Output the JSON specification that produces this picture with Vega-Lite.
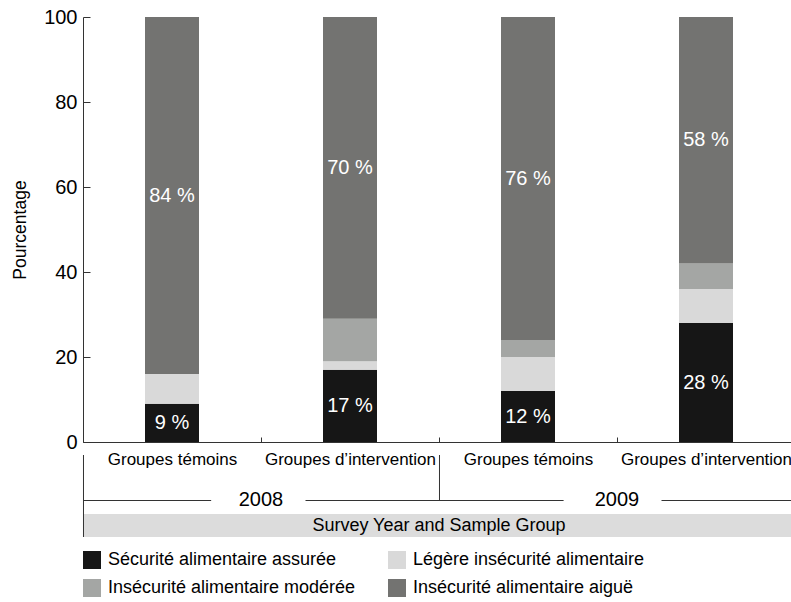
{
  "$schema": "https://vega.github.io/schema/vega-lite/v6.json",
  "width": 708,
  "height": 425,
  "autosize": {"type": "none"},
  "padding": {"left": 83, "top": 17, "right": 0, "bottom": 160},
  "background": "white",
  "config": {
    "view": {"stroke": null},
    "font": "Liberation Sans",
    "axis": {"domainColor": "#333", "tickColor": "#333", "labelColor": "#000", "titleColor": "#000", "grid": false},
    "legend": {"labelColor": "#000"}
  },
  "resolve": {"scale": {"x": "independent"}, "axis": {"y": "independent", "x": "independent"}},
  "datasets": {
    "food": [
      {"bar": "2008|Groupes témoins", "cat": "Sécurité alimentaire assurée", "value": 9, "label": "9 %"},
      {"bar": "2008|Groupes témoins", "cat": "Légère insécurité alimentaire", "value": 7, "label": ""},
      {"bar": "2008|Groupes témoins", "cat": "Insécurité alimentaire modérée", "value": 0, "label": ""},
      {"bar": "2008|Groupes témoins", "cat": "Insécurité alimentaire aiguë", "value": 84, "label": "84 %"},
      {"bar": "2008|Groupes d’intervention", "cat": "Sécurité alimentaire assurée", "value": 17, "label": "17 %"},
      {"bar": "2008|Groupes d’intervention", "cat": "Légère insécurité alimentaire", "value": 2, "label": ""},
      {"bar": "2008|Groupes d’intervention", "cat": "Insécurité alimentaire modérée", "value": 10, "label": ""},
      {"bar": "2008|Groupes d’intervention", "cat": "Insécurité alimentaire aiguë", "value": 71, "label": "70 %"},
      {"bar": "2009|Groupes témoins", "cat": "Sécurité alimentaire assurée", "value": 12, "label": "12 %"},
      {"bar": "2009|Groupes témoins", "cat": "Légère insécurité alimentaire", "value": 8, "label": ""},
      {"bar": "2009|Groupes témoins", "cat": "Insécurité alimentaire modérée", "value": 4, "label": ""},
      {"bar": "2009|Groupes témoins", "cat": "Insécurité alimentaire aiguë", "value": 76, "label": "76 %"},
      {"bar": "2009|Groupes d’intervention", "cat": "Sécurité alimentaire assurée", "value": 28, "label": "28 %"},
      {"bar": "2009|Groupes d’intervention", "cat": "Légère insécurité alimentaire", "value": 8, "label": ""},
      {"bar": "2009|Groupes d’intervention", "cat": "Insécurité alimentaire modérée", "value": 6, "label": ""},
      {"bar": "2009|Groupes d’intervention", "cat": "Insécurité alimentaire aiguë", "value": 58, "label": "58 %"}
    ],
    "one": [{}]
  },
  "layer": [
    {
      "data": {"name": "food"},
      "transform": [
        {"stack": "value", "groupby": ["bar"], "sort": [{"field": "cat", "order": "descending"}], "as": ["y0", "y1"]}
      ],
      "mark": {"type": "bar", "width": 54},
      "encoding": {
        "x": {
          "field": "bar", "type": "nominal",
          "sort": ["2008|Groupes témoins", "2008|Groupes d’intervention", "2009|Groupes témoins", "2009|Groupes d’intervention"],
          "scale": {"range": [0, 712], "paddingInner": 0, "paddingOuter": 0},
          "axis": {"title": null, "labelAngle": 0, "labelFontSize": 17, "labelExpr": "split(datum.value, '|')[1]", "tickSize": -5, "tickBand": "extent", "labelPadding": 14, "labelLimit": 300, "labelOverlap": false}
        },
        "y": {
          "field": "y0", "type": "quantitative",
          "scale": {"domain": [0, 100], "nice": false},
          "axis": {"title": "Pourcentage", "values": [0, 20, 40, 60, 80, 100], "tickSize": -7, "labelPadding": 13, "labelFontSize": 20, "titleFontSize": 17.5, "titleFontWeight": "normal", "titlePadding": 14}
        },
        "y2": {"field": "y1"},
        "color": {
          "field": "cat", "type": "nominal",
          "scale": {
            "domain": ["Sécurité alimentaire assurée", "Légère insécurité alimentaire", "Insécurité alimentaire modérée", "Insécurité alimentaire aiguë"],
            "range": ["#161616", "#d9d9d9", "#a4a6a4", "#737371"]
          },
          "legend": {"title": null, "orient": "none", "legendX": 0, "legendY": 534, "direction": "horizontal", "columns": 2, "symbolType": "square", "symbolSize": 324, "symbolStrokeWidth": 0, "labelFontSize": 18, "labelLimit": 400, "columnPadding": 32, "rowPadding": 10, "labelOffset": 7}
        }
      }
    },
    {
      "data": {"name": "food"},
      "transform": [
        {"stack": "value", "groupby": ["bar"], "sort": [{"field": "cat", "order": "descending"}], "as": ["y0", "y1"]},
        {"filter": "datum.label != ''"},
        {"calculate": "(datum.y0 + datum.y1) / 2", "as": "mid"}
      ],
      "mark": {"type": "text", "color": "white", "fontSize": 20, "baseline": "middle", "align": "center"},
      "encoding": {
        "x": {
          "field": "bar", "type": "nominal",
          "sort": ["2008|Groupes témoins", "2008|Groupes d’intervention", "2009|Groupes témoins", "2009|Groupes d’intervention"],
          "scale": {"range": [0, 712], "paddingInner": 0, "paddingOuter": 0},
          "axis": null
        },
        "y": {"field": "mid", "type": "quantitative", "scale": {"domain": [0, 100], "nice": false}, "axis": null},
        "text": {"field": "label"}
      }
    },
    {
      "data": {"name": "one"},
      "mark": {"type": "rect", "fill": "#dcdcdc"},
      "encoding": {
        "x": {"datum": 0, "type": "quantitative", "scale": {"domain": [0, 4], "range": [0, 712]}, "axis": null},
        "x2": {"datum": 4},
        "y": {"datum": -16.94, "type": "quantitative", "scale": {"domain": [0, 100], "nice": false}, "axis": null},
        "y2": {"datum": -22.35}
      }
    },
    {
      "data": {"name": "one"},
      "mark": {"type": "text", "fontSize": 18, "baseline": "middle", "align": "center", "color": "#000"},
      "encoding": {
        "x": {"datum": 2, "type": "quantitative", "scale": {"domain": [0, 4], "range": [0, 712]}, "axis": null},
        "y": {"datum": -19.65, "type": "quantitative", "scale": {"domain": [0, 100], "nice": false}, "axis": null},
        "text": {"value": "Survey Year and Sample Group"}
      }
    },
    {
      "data": {"name": "one"},
      "mark": {"type": "rule", "color": "#333", "strokeWidth": 1},
      "encoding": {
        "x": {"datum": 0.0028, "type": "quantitative", "scale": {"domain": [0, 4], "range": [0, 712]}, "axis": null},
        "y": {"datum": -3.06, "type": "quantitative", "scale": {"domain": [0, 100], "nice": false}, "axis": null},
        "y2": {"datum": -22.35}
      }
    },
    {
      "data": {"name": "one"},
      "mark": {"type": "rule", "color": "#333", "strokeWidth": 1},
      "encoding": {
        "x": {"datum": 2.0028, "type": "quantitative", "scale": {"domain": [0, 4], "range": [0, 712]}, "axis": null},
        "y": {"datum": -3.06, "type": "quantitative", "scale": {"domain": [0, 100], "nice": false}, "axis": null},
        "y2": {"datum": -13.765}
      }
    },
    {
      "data": {"name": "one"},
      "mark": {"type": "rule", "color": "#333", "strokeWidth": 1},
      "encoding": {
        "x": {"datum": 0, "type": "quantitative", "scale": {"domain": [0, 4], "range": [0, 712]}, "axis": null},
        "x2": {"datum": 0.72},
        "y": {"datum": -13.765, "type": "quantitative", "scale": {"domain": [0, 100], "nice": false}, "axis": null}
      }
    },
    {
      "data": {"name": "one"},
      "mark": {"type": "rule", "color": "#333", "strokeWidth": 1},
      "encoding": {
        "x": {"datum": 1.25, "type": "quantitative", "scale": {"domain": [0, 4], "range": [0, 712]}, "axis": null},
        "x2": {"datum": 2.7},
        "y": {"datum": -13.765, "type": "quantitative", "scale": {"domain": [0, 100], "nice": false}, "axis": null}
      }
    },
    {
      "data": {"name": "one"},
      "mark": {"type": "rule", "color": "#333", "strokeWidth": 1},
      "encoding": {
        "x": {"datum": 3.25, "type": "quantitative", "scale": {"domain": [0, 4], "range": [0, 712]}, "axis": null},
        "x2": {"datum": 4},
        "y": {"datum": -13.765, "type": "quantitative", "scale": {"domain": [0, 100], "nice": false}, "axis": null}
      }
    },
    {
      "data": {"name": "one"},
      "mark": {"type": "text", "fontSize": 20, "baseline": "middle", "align": "center", "color": "#000"},
      "encoding": {
        "x": {"datum": 1, "type": "quantitative", "scale": {"domain": [0, 4], "range": [0, 712]}, "axis": null},
        "y": {"datum": -13.65, "type": "quantitative", "scale": {"domain": [0, 100], "nice": false}, "axis": null},
        "text": {"value": "2008"}
      }
    },
    {
      "data": {"name": "one"},
      "mark": {"type": "text", "fontSize": 20, "baseline": "middle", "align": "center", "color": "#000"},
      "encoding": {
        "x": {"datum": 3, "type": "quantitative", "scale": {"domain": [0, 4], "range": [0, 712]}, "axis": null},
        "y": {"datum": -13.65, "type": "quantitative", "scale": {"domain": [0, 100], "nice": false}, "axis": null},
        "text": {"value": "2009"}
      }
    }
  ]
}
